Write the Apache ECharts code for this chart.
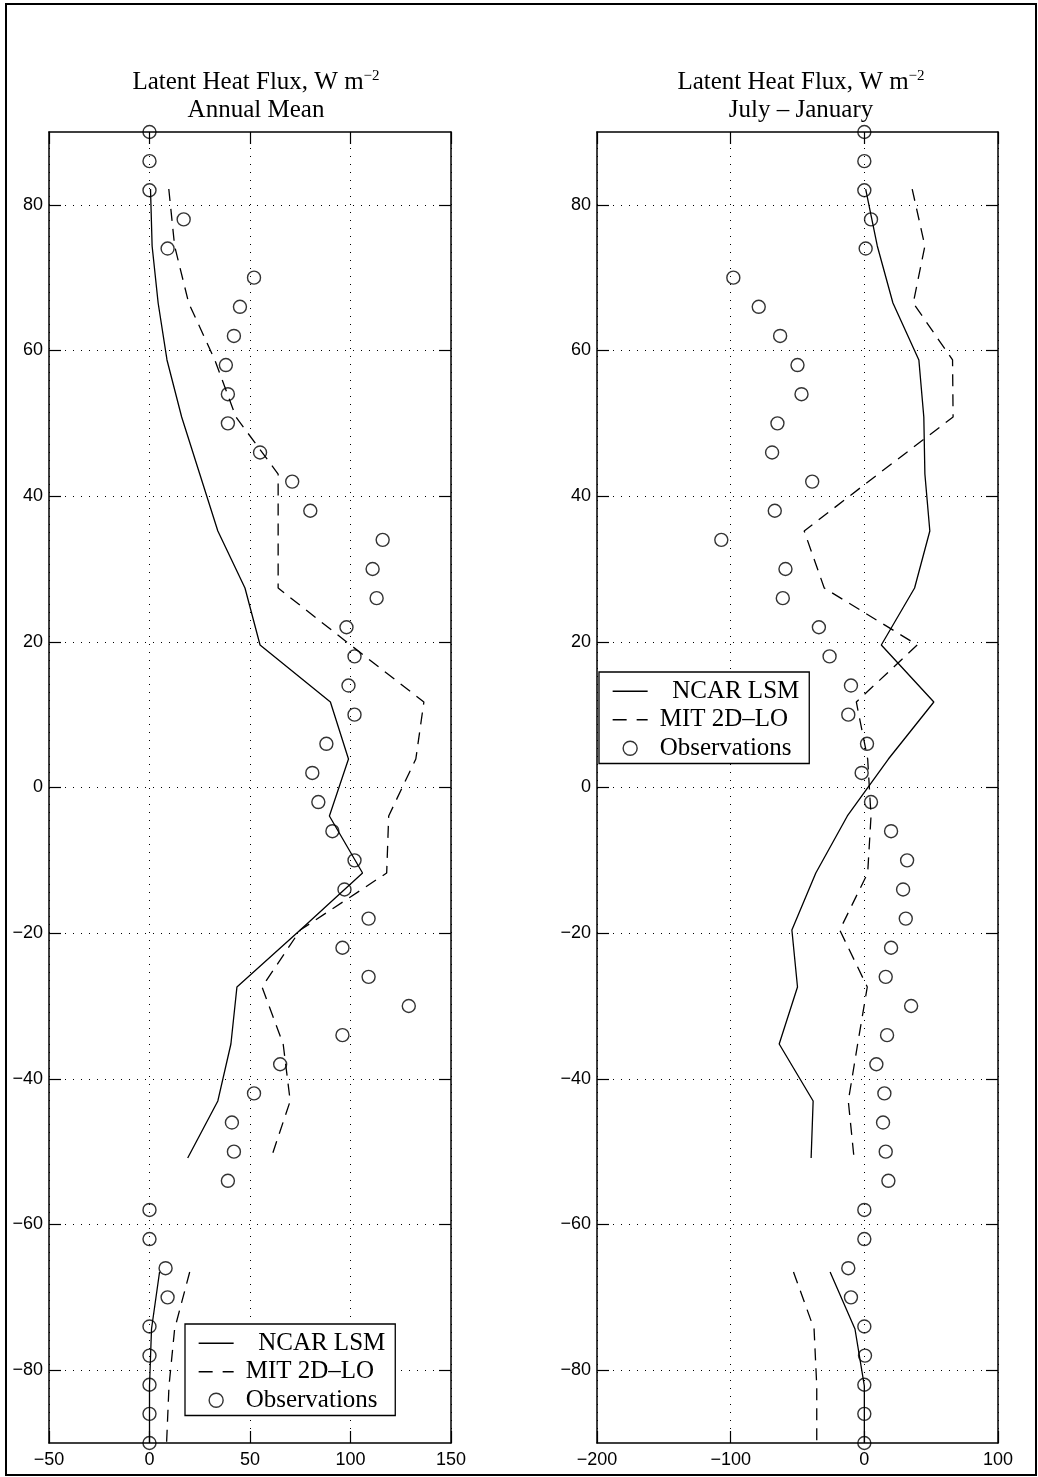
<!DOCTYPE html>
<html>
<head>
<meta charset="utf-8">
<script src="https://cdn.jsdelivr.net/npm/echarts@6/dist/echarts.min.js"></script>
<style>
html, body { margin: 0; padding: 0; background: #fff; }
#chart { width: 1038px; height: 1477px; }
</style>
</head>
<body>
<div id="chart"></div>
<script>
// Observation latitudes, every 4 degrees from north to south
const obsLat = [90, 86, 82, 78, 74, 70, 66, 62, 58, 54, 50, 46, 42, 38, 34, 30, 26, 22, 18, 14, 10, 6, 2,
  -2, -6, -10, -14, -18, -22, -26, -30, -34, -38, -42, -46, -50, -54, -58, -62, -66, -70, -74, -78, -82, -86, -90];
// Observed latent heat flux (W m-2)
const obsAnnual = [0, 0, 0, 17, 9, 52, 45, 42, 38, 39, 39, 55, 71, 80, 116, 111, 113, 98, 102, 99, 102, 88, 81,
  84, 91, 102, 97, 109, 96, 109, 129, 96, 65, 52, 41, 42, 39, 0, 0, 8, 9, 0, 0, 0, 0, 0];
const obsJulJan = [0, 0, 0, 5, 1, -98, -79, -63, -50, -47, -65, -69, -39, -67, -107, -59, -61, -34, -26, -10, -12, 2, -2,
  5, 20, 32, 29, 31, 20, 16, 35, 17, 9, 15, 14, 16, 18, 0, 0, -12, -10, 0, 0.5, 0, 0, 0];

// Model grid latitudes (7.826 degree spacing); no land row at 58.7S
const modelLat = [82.17, 74.35, 66.52, 58.70, 50.87, 43.04, 35.22, 27.39, 19.57, 11.74, 3.91,
  -3.91, -11.74, -19.57, -27.39, -35.22, -43.04, -50.87, -58.70, -66.52, -74.35, -82.17, -90];
const ncarAnnual = [0.5, 1.3, 4.3, 8.7, 16, 25, 34, 47.5, 55, 90, 99, 89.5, 106, 75, 43.5, 40.5, 34, 19, null, 5, 1, 0, 0];
const mitAnnual = [9.6, 12.5, 19.5, 32.5, 43, 64, 64, 64, 100, 136.5, 132.5, 119, 118, 75, 56, 66.5, 70, 60.5, null, 20, 12.5, 9.7, 8.5];
const ncarJulJan = [1, 9.7, 21.4, 40.8, 44.5, 45.3, 49, 37.6, 12.7, 52, 18, -12.7, -36.3, -54.2, -50, -63.7, -38.3, -39.8, null, -25.6, -7, 0, 0];
const mitJulJan = [35.8, 45.3, 36.6, 66, 66.4, 10.4, -45, -30, 39.6, -6, 2.5, 5, 2.5, -18.4, 2.2, -5, -12, -7.7, null, -53, -37.6, -35.6, -35.6];

// Axis ticks
const latTicks = [-80, -60, -40, -20, 0, 20, 40, 60, 80];
const xRangeAnnual = [-50, 150, 50];
const xRangeJulJan = [-200, 100, 100];

const seriesNames = ['NCAR LSM', 'MIT 2D\u2013LO', 'Observations'];
const panelTitles = [
  ['Latent Heat Flux, W m', '\u22122', 'Annual Mean'],
  ['Latent Heat Flux, W m', '\u22122', 'July \u2013 January']
];

const SERIF = '"Liberation Serif", "Times New Roman", serif';
const SANS = '"Liberation Sans", Arial, Helvetica, sans-serif';
const minus = v => String(v).replace('-', '\u2212');

const grids = [
  { left: 49, top: 132, width: 402, height: 1311 },
  { left: 597, top: 132, width: 401, height: 1311 }
];

const frameLine = { show: true, onZero: false, lineStyle: { color: '#000', width: 1.5 } };
const tickInside = { show: true, inside: true, length: 12, lineStyle: { color: '#000', width: 1.2 } };
const dotted = { show: true, lineStyle: { color: '#000', width: 1, type: [1, 7] } };
const dash = [12, 8];

function xAxes(gridIndex, range) {
  const [min, max, interval] = range;
  return [
    {
      type: 'value', gridIndex, position: 'bottom', min, max, interval,
      axisLine: frameLine, axisTick: tickInside, splitLine: dotted,
      axisLabel: { show: true, margin: 8, color: '#000', fontFamily: SANS, fontSize: 18, formatter: minus }
    },
    {
      type: 'value', gridIndex, position: 'top', min, max, interval,
      axisLine: frameLine, axisTick: tickInside, splitLine: { show: false }, axisLabel: { show: false }
    }
  ];
}

function yAxes(gridIndex) {
  return [
    {
      type: 'value', gridIndex, position: 'left', min: -90, max: 90, interval: 10,
      axisLine: frameLine,
      axisTick: Object.assign({}, tickInside, { customValues: latTicks }),
      splitLine: dotted,
      axisLabel: { show: true, margin: 6, color: '#000', fontFamily: SANS, fontSize: 18, formatter: minus, customValues: latTicks }
    },
    {
      type: 'value', gridIndex, position: 'right', min: -90, max: 90, interval: 10,
      axisLine: frameLine,
      axisTick: Object.assign({}, tickInside, { customValues: latTicks }),
      splitLine: { show: false }, axisLabel: { show: false }
    }
  ];
}

function pairs(values, lats) {
  return values.map((v, i) => [v, lats[i]]);
}

function panelSeries(idx, ncar, mit, obs) {
  const axisRef = { xAxisIndex: idx * 2, yAxisIndex: idx * 2 };
  return [
    Object.assign({
      name: seriesNames[0], type: 'line', data: pairs(ncar, modelLat),
      symbol: 'none', connectNulls: false,
      lineStyle: { color: '#000', width: 1.3, type: 'solid' }, itemStyle: { color: '#000' }
    }, axisRef),
    Object.assign({
      name: seriesNames[1], type: 'line', data: pairs(mit, modelLat),
      symbol: 'none', connectNulls: false,
      lineStyle: { color: '#000', width: 1.3, type: dash }, itemStyle: { color: '#000' }
    }, axisRef),
    Object.assign({
      name: seriesNames[2], type: 'scatter', data: pairs(obs, obsLat),
      symbol: 'circle', symbolSize: 13, clip: false,
      itemStyle: { color: 'rgba(0,0,0,0)', borderColor: '#000', borderWidth: 1.4 }
    }, axisRef)
  ];
}

// Legend entries: plain line samples (no marker) for the two models, open circle for observations
const noMarker = { color: 'rgba(0,0,0,0)', borderColor: 'rgba(0,0,0,0)', borderWidth: 0 };
function legendAt(left, top) {
  return {
    left, top, orient: 'vertical', selectedMode: false,
    data: [
      { name: seriesNames[0], itemStyle: noMarker, lineStyle: { color: '#000', width: 1.3, type: 'solid' } },
      { name: seriesNames[1], itemStyle: noMarker, lineStyle: { color: '#000', width: 1.3, type: [14, 10] } },
      { name: seriesNames[2], itemStyle: { color: 'rgba(0,0,0,0)', borderColor: '#000', borderWidth: 1.4 } }
    ],
    itemWidth: 35, itemHeight: 14, itemGap: 0,
    padding: [5, 10, 1, 13],
    backgroundColor: '#fff', borderColor: '#000', borderWidth: 1.3, borderRadius: 0,
    formatter: name => (name === seriesNames[0] ? '  ' + name : name),
    textStyle: { fontFamily: SERIF, fontSize: 25, color: '#000', lineHeight: 28.5, padding: [0, 0, 0, 7] }
  };
}

function titleText(x, t) {
  return {
    type: 'text', x, y: 69, silent: true,
    style: {
      text: '{m|' + t[0] + '}{s|' + t[1] + '}\n{m|' + t[2] + '}',
      align: 'center', verticalAlign: 'top',
      rich: {
        m: { fontFamily: SERIF, fontSize: 25, lineHeight: 27.5, fill: '#000' },
        s: { fontFamily: SERIF, fontSize: 15, lineHeight: 8, verticalAlign: 'top', fill: '#000' }
      }
    }
  };
}

const chart = echarts.init(document.getElementById('chart'), null, { renderer: 'canvas' });
chart.setOption({
  animation: false,
  backgroundColor: '#fff',
  grid: grids,
  xAxis: [...xAxes(0, xRangeAnnual), ...xAxes(1, xRangeJulJan)],
  yAxis: [...yAxes(0), ...yAxes(1)],
  legend: [legendAt(185, 1324), legendAt(599, 672)],
  series: [
    ...panelSeries(0, ncarAnnual, mitAnnual, obsAnnual),
    ...panelSeries(1, ncarJulJan, mitJulJan, obsJulJan)
  ],
  graphic: [
    {
      type: 'rect', silent: true, z: -1,
      shape: { x: 6, y: 4, width: 1030, height: 1471 },
      style: { fill: 'none', stroke: '#000', lineWidth: 2 }
    },
    titleText(256, panelTitles[0]),
    titleText(801, panelTitles[1])
  ]
});
</script>
</body>
</html>
